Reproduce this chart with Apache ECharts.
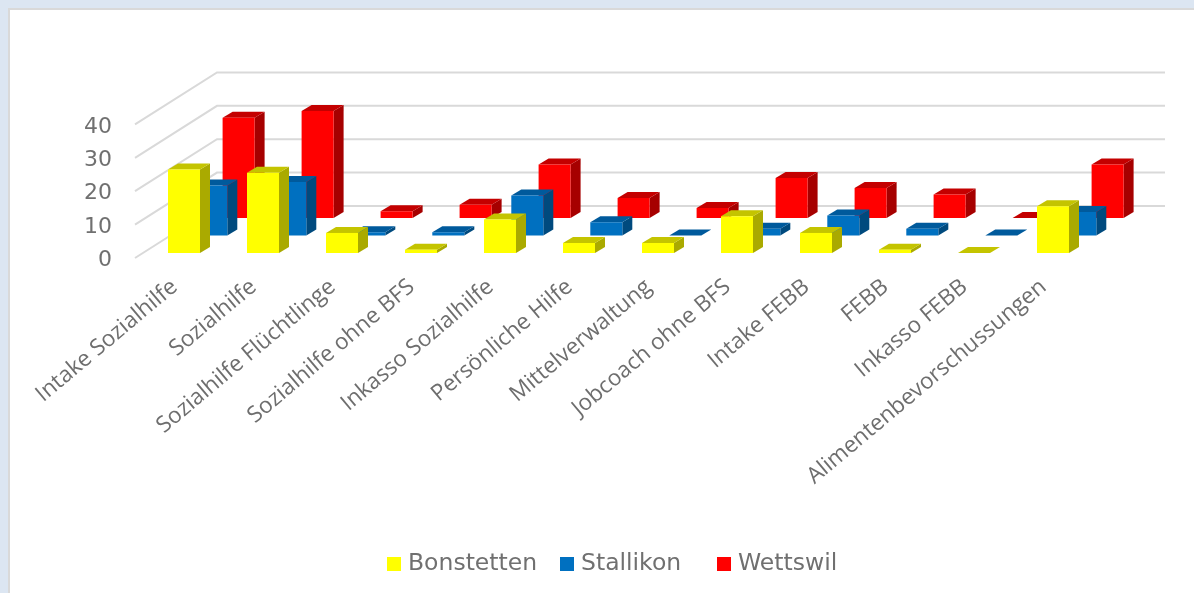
<!DOCTYPE html>
<html><head><meta charset="utf-8">
<style>
html,body{margin:0;padding:0;width:1194px;height:593px;overflow:hidden;background:#dce6f2}
#panel{position:absolute;left:8px;top:8px;width:1186px;height:585px;background:#fff;border-left:2px solid #d9d9d9;border-top:2px solid #d9d9d9;box-sizing:border-box}
#chart{position:absolute;left:0;top:0;width:1194px;height:593px}
</style>
<script src="https://cdn.jsdelivr.net/npm/echarts@6/dist/echarts.min.js"></script>
</head><body><div id="panel"></div><div id="chart"></div>
<script>
const categories = ['Intake Sozialhilfe','Sozialhilfe','Sozialhilfe Flüchtlinge','Sozialhilfe ohne BFS','Inkasso Sozialhilfe','Persönliche Hilfe','Mittelverwaltung','Jobcoach ohne BFS','Intake FEBB','FEBB','Inkasso FEBB','Alimentenbevorschussungen'];
const bonstetten = [25,24,6,1,10,3,3,11,6,1,0,14];
const stallikon  = [15,16,1,1,12,4,0,2,6,2,0,7];
const wettswil   = [30,32,2,4,16,6,3,12,9,7,0,16];
const yTicks = [0,10,20,30,40];

const BAR_W = 32, DEPTH_X = 10, DEPTH_Y = -6;
const WALL_X = 82, WALL_Y = -52;

function barRenderer(offX, offY, front, top, side) {
  return function (params, api) {
    const p = api.coord([api.value(0), api.value(1)]);
    const b = api.coord([api.value(0), 0]);
    const l = p[0] + offX - BAR_W / 2, r = l + BAR_W;
    const t = p[1] + offY, y0 = b[1] + offY;
    return {
      type: 'group',
      children: [
        {type:'polygon', shape:{points:[[r,y0],[r+DEPTH_X,y0+DEPTH_Y],[r+DEPTH_X,t+DEPTH_Y],[r,t]]}, style:{fill:side}},
        {type:'polygon', shape:{points:[[l,t],[r,t],[r+DEPTH_X,t+DEPTH_Y],[l+DEPTH_X,t+DEPTH_Y]]}, style:{fill:top}},
        {type:'rect', shape:{x:l,y:t,width:BAR_W,height:y0-t}, style:{fill:front}}
      ]
    };
  };
}
function wallRenderer(params, api) {
  const cs = params.coordSys;
  const y = api.coord([0, api.value(0)])[1];
  const x = cs.x;
  return {type:'polyline',
    shape:{points:[[x,y],[x+WALL_X,y+WALL_Y],[x+WALL_X+cs.width,y+WALL_Y]]},
    style:{fill:'none',stroke:'#d9d9d9',lineWidth:2}};
}
function barSeries(name, values, z, offX, offY, front, top, side) {
  return {name, type:'custom', z, coordinateSystem:'cartesian2d',
    itemStyle:{color:front},
    data: values.map((v,i)=>[categories[i],v]),
    encode:{x:0,y:1},
    renderItem: barRenderer(offX,offY,front,top,side)};
}
function legendItem(name, left) {
  return {data:[name], left, top:547, itemWidth:14, itemHeight:14, icon:'rect', selectedMode:false,
    textStyle:{color:'#707070', fontFamily:'DejaVu Sans', fontSize:23.5, padding:[0,0,0,2]}};
}
const chart = echarts.init(document.getElementById('chart'), null, {renderer:'canvas'});
chart.setOption({
  animation:false,
  backgroundColor:'transparent',
  grid:{left:135, top:124.4, width:948, height:133.6, containLabel:false},
  legend:[legendItem('Bonstetten',382), legendItem('Stallikon',555), legendItem('Wettswil',712)],
  xAxis:{type:'category', data:categories, boundaryGap:true,
    axisLine:{show:false}, axisTick:{show:false}, splitLine:{show:false},
    axisLabel:{interval:0, rotate:40, margin:26, padding:[13,0,0,0], color:'#6e6e6e', fontFamily:'Open Sans', fontSize:22.5}},
  yAxis:{type:'value', min:0, max:40, interval:10,
    axisLine:{show:false}, axisTick:{show:false}, splitLine:{show:false},
    axisLabel:{margin:23, verticalAlign:'top', lineHeight:5, color:'#707070', fontFamily:'DejaVu Sans', fontSize:22}},
  series:[
    {type:'custom', name:'Gitter', z:1, silent:true, coordinateSystem:'cartesian2d',
      data:yTicks.map(v=>[v]), encode:{y:0}, renderItem:wallRenderer},
    barSeries('Wettswil', wettswil, 2, 64.1, -40, '#ff0000','#c40000','#a60000'),
    barSeries('Stallikon', stallikon, 3, 36.8, -22.5, '#0070c0','#005a9c','#004a7e'),
    barSeries('Bonstetten', bonstetten, 4, 9.5, -5, '#ffff00','#c4c400','#aaaa00')
  ]
});
</script></body></html>
